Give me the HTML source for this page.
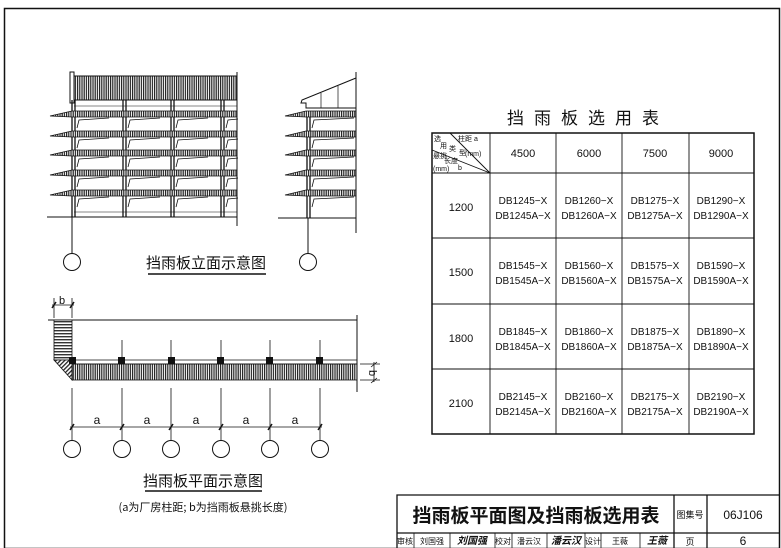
<!DOCTYPE html>
<html><head><meta charset="utf-8"><style>
html,body{margin:0;padding:0;background:#fff}
svg{display:block}
text{font-family:"Liberation Sans","Noto Sans CJK SC",sans-serif;fill:#111}
.cj{font-family:"Noto Sans CJK SC","WenQuanYi Zen Hei",sans-serif}
</style></head><body>
<svg width="781" height="548" viewBox="0 0 781 548" xmlns="http://www.w3.org/2000/svg">
<defs>
<pattern id="vh" width="2.2" height="4" patternUnits="userSpaceOnUse"><rect width="2.2" height="4" fill="#fff"/><rect width="1.2" height="4" fill="#222"/></pattern>
<pattern id="hh" width="4" height="3" patternUnits="userSpaceOnUse"><rect width="4" height="3" fill="#fff"/><rect width="4" height="1.4" fill="#333"/></pattern>
<pattern id="dh" width="3" height="3" patternUnits="userSpaceOnUse" patternTransform="rotate(45)"><rect width="3" height="3" fill="#fff"/><rect width="1.3" height="3" fill="#222"/></pattern>
</defs>
<g fill="none" stroke="#111">
<rect x="4.5" y="8.5" width="775" height="540" stroke-width="1.5"/>

<rect x="74" y="76" width="163" height="24" fill="url(#vh)" stroke-width="1"/>
<rect x="70" y="72" width="4" height="31" stroke-width="1"/>
<line x1="237" y1="72" x2="237" y2="226"/>
<line x1="74" y1="100" x2="237" y2="100"/>
<line x1="74" y1="106" x2="237" y2="106" stroke-width="0.6"/>
<line x1="47" y1="217" x2="237" y2="217"/>
<line x1="74" y1="212" x2="237" y2="212" stroke-width="0.6"/>
<g stroke-width="1.3">
<line x1="72" y1="100" x2="72" y2="217"/><line x1="75" y1="100" x2="75" y2="217"/>
<line x1="123" y1="100" x2="123" y2="217"/><line x1="126" y1="100" x2="126" y2="217"/>
<line x1="171" y1="100" x2="171" y2="217"/><line x1="174" y1="100" x2="174" y2="217"/>
<line x1="221" y1="100" x2="221" y2="217"/><line x1="224" y1="100" x2="224" y2="217"/>
</g>
<g stroke-width="0.8">
<path d="M77 128 l2 -8 l30 -2 M128 128 l2 -8 l30 -2 M176 128 l2 -8 l30 -2 M226 128 l2 -8 l10 -1"/>
<path d="M77 148 l2 -8 l30 -2 M128 148 l2 -8 l30 -2 M176 148 l2 -8 l30 -2 M226 148 l2 -8 l10 -1"/>
<path d="M77 167 l2 -8 l30 -2 M128 167 l2 -8 l30 -2 M176 167 l2 -8 l30 -2 M226 167 l2 -8 l10 -1"/>
<path d="M77 187 l2 -8 l30 -2 M128 187 l2 -8 l30 -2 M176 187 l2 -8 l30 -2 M226 187 l2 -8 l10 -1"/>
<path d="M77 207 l2 -8 l30 -2 M128 207 l2 -8 l30 -2 M176 207 l2 -8 l30 -2 M226 207 l2 -8 l10 -1"/>
</g>
<g fill="url(#vh)" stroke-width="0.8">
<path d="M50 116 L72 111 L237 111 L237 117 L72 117 Z"/>
<path d="M50 136 L72 131 L237 131 L237 137 L72 137 Z"/>
<path d="M50 155 L72 150 L237 150 L237 156 L72 156 Z"/>
<path d="M50 175 L72 170 L237 170 L237 176 L72 176 Z"/>
<path d="M50 195 L72 190 L237 190 L237 196 L72 196 Z"/>
</g>
<line x1="72" y1="217" x2="72" y2="254"/>
<circle cx="72" cy="262" r="8.5"/>

<line x1="356" y1="72" x2="356" y2="233"/>
<path d="M356 78 L302 100 L301 103 L306 103 L306 108 L356 108"/>
<path d="M321 93 V108 M338 86 V108" stroke-width="0.7"/>
<line x1="278" y1="218" x2="356" y2="218"/>
<line x1="307" y1="112" x2="307" y2="218" stroke-width="1.3"/><line x1="310" y1="112" x2="310" y2="218" stroke-width="1.3"/>
<g stroke-width="0.8">
<path d="M312 128 l2 -8 l40 -2 M312 148 l2 -8 l40 -2 M312 167 l2 -8 l40 -2 M312 187 l2 -8 l40 -2 M312 207 l2 -8 l40 -2"/>
</g>
<g fill="url(#vh)" stroke-width="0.8">
<path d="M285 116 L306 111 L356 111 L356 117 L306 117 Z"/>
<path d="M285 136 L306 131 L356 131 L356 137 L306 137 Z"/>
<path d="M285 155 L306 150 L356 150 L356 156 L306 156 Z"/>
<path d="M285 175 L306 170 L356 170 L356 176 L306 176 Z"/>
<path d="M285 195 L306 190 L356 190 L356 196 L306 196 Z"/>
</g>
<line x1="308" y1="218" x2="308" y2="254"/>
<circle cx="308" cy="262" r="8.5"/>
<line x1="148" y1="274" x2="266" y2="274" stroke-width="1.5"/>

<line x1="48" y1="320" x2="357" y2="320"/>
<line x1="357" y1="315" x2="357" y2="392"/>
<rect x="54" y="320" width="18" height="40" fill="url(#hh)" stroke-width="0.8"/>
<path d="M54 360 L72 360 L72 380 Z" fill="url(#dh)" stroke-width="0.8"/>
<rect x="72" y="364" width="285" height="16" fill="url(#vh)" stroke-width="0.8"/>
<line x1="72" y1="360" x2="357" y2="360" stroke-width="0.7"/>
<line x1="72" y1="364" x2="357" y2="364" stroke-width="0.7"/>
<g fill="#111" stroke="none">
<rect x="69" y="357" width="7" height="7"/><rect x="118" y="357" width="7" height="7"/><rect x="168" y="357" width="7" height="7"/><rect x="217" y="357" width="7" height="7"/><rect x="266" y="357" width="7" height="7"/><rect x="316" y="357" width="7" height="7"/>
</g>
<g stroke-width="0.8">
<path d="M122 340 V357 M171 340 V357 M221 340 V357 M270 340 V357 M320 340 V357"/>
<path d="M72 388 V440 M122 388 V440 M171 388 V440 M221 388 V440 M270 388 V440 M320 388 V440"/>
<line x1="70" y1="427" x2="322" y2="427"/>
<path d="M70 430 l4 -6 M120 430 l4 -6 M169 430 l4 -6 M219 430 l4 -6 M268 430 l4 -6 M318 430 l4 -6" stroke-width="1.5"/>
<path d="M54 298 V318 M72 298 V318 M52 305 H74" />
<path d="M52 308 l4 -6 M70 308 l4 -6" stroke-width="1.5"/>
<path d="M360 364 H380 M360 380 H380 M374 362 V382 M371 367 l6 -5 M371 383 l6 -5" />
</g>
<circle cx="72" cy="449" r="8.5"/><circle cx="122" cy="449" r="8.5"/><circle cx="171" cy="449" r="8.5"/><circle cx="221" cy="449" r="8.5"/><circle cx="270" cy="449" r="8.5"/><circle cx="320" cy="449" r="8.5"/>
<line x1="145" y1="491" x2="262" y2="491" stroke-width="1.5"/>

<rect x="432" y="133" width="322" height="301" stroke-width="1.5"/>
<g stroke-width="0.9">
<path d="M490 133 V434 M556 133 V434 M622 133 V434 M689 133 V434"/>
<path d="M432 173 H754 M432 238 H754 M432 304 H754 M432 369 H754"/>
<path d="M450 133 L490 173 M432 150 L490 173"/>
</g>

<path d="M397 548 V495 H780 M397 533 H780 M674 495 V548 M707 495 V548" stroke-width="1.3"/>
<path d="M414 533 V548 M450 533 V548 M495 533 V548 M512 533 V548 M547 533 V548 M585 533 V548 M601 533 V548 M640 533 V548" stroke-width="0.8"/>
</g>

<text x="206" y="268" font-size="15" text-anchor="middle" class="cj">挡雨板立面示意图</text>
<text x="203" y="486" font-size="15" text-anchor="middle" class="cj">挡雨板平面示意图</text>
<text x="203" y="511" font-size="11" text-anchor="middle" class="cj">(a为厂房柱距; b为挡雨板悬挑长度)</text>
<text x="62" y="304" font-size="11" text-anchor="middle">b</text>
<text x="372" y="376" font-size="11" text-anchor="middle" transform="rotate(90 372 373)">b</text>
<g font-size="12" text-anchor="middle">
<text x="97" y="424">a</text><text x="147" y="424">a</text><text x="196" y="424">a</text><text x="246" y="424">a</text><text x="295" y="424">a</text>
</g>
<text x="588" y="124" font-size="17" text-anchor="middle" letter-spacing="10" class="cj">挡雨板选用表</text>
<g font-size="7" class="cj">
<text x="434" y="141">选</text><text x="440" y="148">用</text><text x="449" y="151">类</text><text x="459" y="155">型</text><text x="465" y="156">(mm)</text>
<text x="458" y="141">柱距 a</text>
<text x="433" y="158">悬挑</text><text x="444" y="163">长度</text><text x="433" y="171">(mm)</text><text x="458" y="170">b</text>
</g>
<g font-size="11" text-anchor="middle">
<text x="523" y="157">4500</text><text x="589" y="157">6000</text><text x="655" y="157">7500</text><text x="721" y="157">9000</text>
<text x="461" y="211">1200</text><text x="461" y="276">1500</text><text x="461" y="342">1800</text><text x="461" y="407">2100</text>
</g>
<g font-size="10" text-anchor="middle" fill="#222">
<text x="523" y="204">DB1245−X</text><text x="523" y="219">DB1245A−X</text>
<text x="589" y="204">DB1260−X</text><text x="589" y="219">DB1260A−X</text>
<text x="655" y="204">DB1275−X</text><text x="655" y="219">DB1275A−X</text>
<text x="721" y="204">DB1290−X</text><text x="721" y="219">DB1290A−X</text>
<text x="523" y="269">DB1545−X</text><text x="523" y="284">DB1545A−X</text>
<text x="589" y="269">DB1560−X</text><text x="589" y="284">DB1560A−X</text>
<text x="655" y="269">DB1575−X</text><text x="655" y="284">DB1575A−X</text>
<text x="721" y="269">DB1590−X</text><text x="721" y="284">DB1590A−X</text>
<text x="523" y="335">DB1845−X</text><text x="523" y="350">DB1845A−X</text>
<text x="589" y="335">DB1860−X</text><text x="589" y="350">DB1860A−X</text>
<text x="655" y="335">DB1875−X</text><text x="655" y="350">DB1875A−X</text>
<text x="721" y="335">DB1890−X</text><text x="721" y="350">DB1890A−X</text>
<text x="523" y="400">DB2145−X</text><text x="523" y="415">DB2145A−X</text>
<text x="589" y="400">DB2160−X</text><text x="589" y="415">DB2160A−X</text>
<text x="655" y="400">DB2175−X</text><text x="655" y="415">DB2175A−X</text>
<text x="721" y="400">DB2190−X</text><text x="721" y="415">DB2190A−X</text>
</g>
<text x="536" y="522" font-size="19" font-weight="bold" text-anchor="middle" class="cj">挡雨板平面图及挡雨板选用表</text>
<text x="690" y="518" font-size="9" text-anchor="middle" class="cj">图集号</text>
<text x="743" y="519" font-size="12" text-anchor="middle">06J106</text>
<text x="690" y="545" font-size="9" text-anchor="middle" class="cj">页</text>
<text x="743" y="545" font-size="12" text-anchor="middle">6</text>
<g font-size="8" class="cj" text-anchor="middle">
<text x="405" y="544">审核</text><text x="432" y="544">刘国强</text><text x="472" y="544" font-style="italic" font-weight="bold" font-size="10">刘国强</text>
<text x="503" y="544">校对</text><text x="529" y="544">潘云汉</text><text x="566" y="544" font-style="italic" font-weight="bold" font-size="10">潘云汉</text>
<text x="593" y="544">设计</text><text x="620" y="544">王薇</text><text x="657" y="544" font-style="italic" font-weight="bold" font-size="10">王薇</text>
</g>
</svg>
</body></html>
